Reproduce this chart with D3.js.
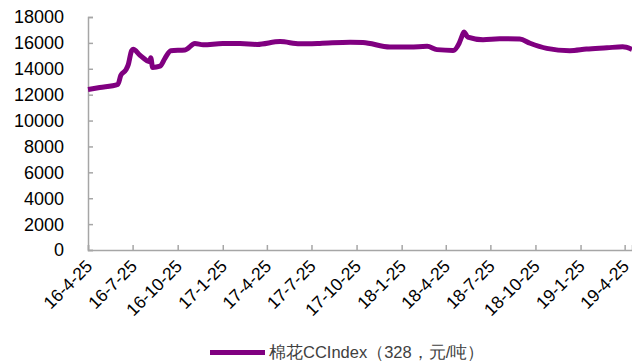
<!DOCTYPE html>
<html lang="zh">
<head>
    <meta charset="UTF-8">
    <title>棉花CCIndex</title>
    <script src="https://d3js.org/d3.v7.min.js"></script>
    <style>
        body { margin: 0; background: #fff; }
        svg text { font-family: "Liberation Sans", Arial, sans-serif; }
    </style>
</head>
<body>
<svg id="chart" width="632" height="363"></svg>
<script>
    // data
    const dates = ["2016-04-25","2016-05-19","2016-06-25","2016-07-01","2016-07-11","2016-07-16",
        "2016-07-23","2016-07-26","2016-08-09","2016-08-29","2016-08-31","2016-09-04","2016-09-19",
        "2016-09-29","2016-10-11","2016-11-09","2016-11-29","2016-12-16","2017-01-25","2017-03-01",
        "2017-04-05","2017-05-22","2017-07-01","2017-08-11","2017-10-12","2017-11-07","2018-01-01",
        "2018-02-11","2018-03-18","2018-04-07","2018-05-10","2018-05-22","2018-05-30","2018-06-01",
        "2018-06-09","2018-07-10","2018-08-13","2018-09-23","2018-10-14","2018-11-17","2019-01-03",
        "2019-02-06","2019-03-20","2019-04-21","2019-05-10"];
    const values = [12400,12550,12800,13500,13900,14300,
        15400,15500,15050,14550,14850,14100,14200,
        14800,15400,15450,15950,15850,15950,15950,
        15880,16100,15930,15960,16050,16030,15680,
        15680,15740,15480,15420,15950,16700,16850,
        16450,16250,16320,16300,15970,15580,15400,
        15520,15620,15700,15500];
    const tickDates = ["2016-04-25","2016-07-25","2016-10-25","2017-01-25","2017-04-25","2017-07-25",
        "2017-10-25","2018-01-25","2018-04-25","2018-07-25","2018-10-25","2019-01-25","2019-04-25"];
    const yTicks = [0,2000,4000,6000,8000,10000,12000,14000,16000,18000];
    const seriesName = "棉花CCIndex（328，元/吨）";

    const parse = d3.timeParse("%Y-%m-%d");
    const fmt = d => `${d.getFullYear() % 100}-${d.getMonth() + 1}-${d.getDate()}`;
    const points = dates.map((d, i) => ({date: parse(d), value: values[i]}));

    const svg = d3.select("#chart");
    const mLeft = 88, mRight = 632, mTop = 17, mBottom = 250;

    const x = d3.scaleTime()
        .domain([parse("2016-04-25"), parse("2019-05-10")])
        .range([mLeft, mRight]);
    const y = d3.scaleLinear().domain([0, 18000]).range([mBottom, mTop]);

    const axisColor = "#a6a6a6";

    // y axis
    const yAxis = svg.append("g")
        .attr("transform", `translate(${mLeft},0)`)
        .call(d3.axisRight(y).tickValues(yTicks).tickSize(5).tickFormat(""));
    yAxis.select(".domain").attr("stroke", axisColor).attr("stroke-width", 1.5);
    yAxis.selectAll(".tick line").attr("stroke", axisColor).attr("stroke-width", 1.5);

    svg.append("g").selectAll("text")
        .data(yTicks)
        .enter()
        .append("text")
        .attr("x", 64)
        .attr("y", d => y(d))
        .attr("dy", "0.36em")
        .attr("text-anchor", "end")
        .attr("font-size", 18)
        .attr("fill", "#000")
        .text(d => d);

    // x axis
    const xAxis = svg.append("g")
        .attr("transform", `translate(0,${mBottom})`)
        .call(d3.axisTop(x).tickValues(tickDates.map(parse)).tickSize(5).tickFormat(""));
    xAxis.select(".domain").attr("stroke", axisColor).attr("stroke-width", 1.5);
    xAxis.selectAll(".tick line").attr("stroke", axisColor).attr("stroke-width", 1.5);

    svg.append("g").selectAll("text")
        .data(tickDates.map(parse))
        .enter()
        .append("text")
        .attr("transform", d => `translate(${x(d) + 1},${mBottom + 13}) rotate(-45)`)
        .attr("text-anchor", "end")
        .attr("dy", "0.36em")
        .attr("font-size", 17.5)
        .attr("fill", "#000")
        .text(fmt);

    // series
    const line = d3.line()
        .x(d => x(d.date))
        .y(d => y(d.value))
        .curve(d3.curveMonotoneX);

    svg.append("path")
        .datum(points)
        .attr("d", line)
        .attr("fill", "none")
        .attr("stroke", "#800080")
        .attr("stroke-width", 5)
        .attr("stroke-linejoin", "round");

    // legend
    svg.append("line")
        .attr("x1", 210).attr("x2", 265)
        .attr("y1", 352.5).attr("y2", 352.5)
        .attr("stroke", "#800080")
        .attr("stroke-width", 5);
    svg.append("text")
        .attr("x", 269)
        .attr("y", 352.5)
        .attr("dy", "0.36em")
        .attr("font-size", 16.5)
        .attr("fill", "#404040")
        .attr("font-family", "'Liberation Sans', 'Noto Sans CJK SC', sans-serif")
        .text(seriesName);
</script>
</body>
</html>
